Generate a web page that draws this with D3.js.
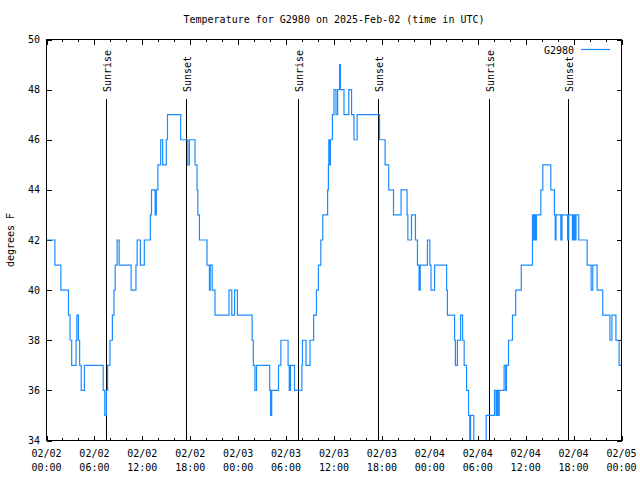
<!DOCTYPE html>
<html><head><meta charset="utf-8">
<script src="https://cdn.jsdelivr.net/npm/d3@7"></script>
<style>
body{margin:0;background:#fff;}
text{font-family:"DejaVu Sans Mono",monospace;font-size:10px;fill:#000;}
</style></head>
<body><svg id="c" width="640" height="480"></svg>
<script>
// Hours since 2025-02-02 00:00 UTC and temperature (deg F)
const hours = [0,1.05,1.8,2.75,2.95,3.15,3.7,3.8,4.0,4.15,4.35,4.75,7.1,7.3,7.5,7.65,7.95,8.25,8.45,8.6,8.85,9.1,10.6,11.2,11.35,11.75,12.25,13.0,13.15,13.6,13.75,13.95,14.3,14.55,15.0,15.15,16.8,17.7,17.9,18.6,18.85,18.95,19.15,20.1,20.4,20.5,20.75,21.1,22.85,23.2,23.55,23.9,25.75,25.9,26.1,26.3,27.95,28.05,28.2,29.05,29.35,30.25,30.4,30.55,31.05,31.98,32.05,32.5,33.0,33.45,33.8,34.05,34.35,34.6,35.2,35.3,35.35,35.45,35.55,35.8,36.0,36.25,36.45,36.7,36.8,37.25,37.85,38.2,38.5,38.9,41.7,42.4,42.85,43.45,44.4,45.15,45.25,45.7,46.2,46.45,46.65,46.8,47.7,48.0,48.15,48.6,50.1,50.2,51.1,51.2,51.45,51.85,52.1,52.3,52.6,52.85,53.0,53.1,53.5,55.05,56.1,56.3,56.45,56.55,56.68,57.3,57.5,57.6,57.85,58.35,58.75,59.45,60.85,60.95,61.05,61.2,61.35,61.9,62.15,63.15,63.6,63.7,63.8,64.4,64.55,65.25,65.4,65.85,66.0,66.15,66.3,66.65,67.7,68.2,68.4,68.95,69.65,70.55,70.8,71.3,71.7,72];
const temps = [42,41,40,39,38,37,38,39,38,37,36,37,36,35,36,37,38,39,40,41,42,41,40,41,42,41,42,43,44,43,44,45,46,45,46,47,46,45,46,45,44,43,42,41,40,41,40,39,40,39,40,39,38,37,36,37,36,35,36,37,38,37,36,37,36,37,38,37,38,39,40,41,42,43,44,45,46,45,46,47,48,47,48,49,48,47,48,47,46,47,46,45,44,43,44,43,42,43,42,41,40,41,42,41,40,41,40,39,38,37,38,39,38,37,36,35,33,35,33,35,36,35,36,35,36,37,36,37,38,39,40,41,43,42,43,42,43,44,45,44,43,42,43,42,43,42,43,42,43,42,43,42,41,40,41,40,39,38,39,38,37,37];
const seriesName = "G2980";
const sunEventHours = [7.45,17.45,31.45,41.45,55.35,65.35];
const sunEventLabels = ["Sunrise","Sunset","Sunrise","Sunset","Sunrise","Sunset"];
const yTicks = [34,36,38,40,42,44,46,48,50];
const xMajorHours = [0,6,12,18,24,30,36,42,48,54,60,66,72];
const xMinorHours = d3.range(0,73,2);
const titleText = "Temperature for G2980 on 2025-Feb-02 (time in UTC)";
const yLabelText = "degrees F";

const t0 = Date.UTC(2025,1,2,0,0,0);
const toDate = h => new Date(t0 + h*3600e3);
const data = hours.map((h,i)=>({t:toDate(h), v:temps[i]}));

const L=46.5, R=621.5, T=39.5, B=440.5;
const svg = d3.select("#c");
const x = d3.scaleUtc().domain([toDate(0),toDate(72)]).range([L,R]);
const y = d3.scaleLinear().domain([34,50]).range([B,T]);

svg.append("text").attr("x",(L+R)/2).attr("y",23).attr("text-anchor","middle").text(titleText);
svg.append("text").attr("transform","translate(13.5,240) rotate(-90)").attr("text-anchor","middle").text(yLabelText);

const fmtD = d3.utcFormat("%m/%d"), fmtT = d3.utcFormat("%H:%M");
// minor ticks
const minorBot = svg.append("g").attr("transform",`translate(0,${B})`)
  .call(d3.axisBottom(x).tickValues(xMinorHours.map(toDate)).tickSize(-2.5).tickFormat(""));
const minorTop = svg.append("g").attr("transform",`translate(0,${T})`)
  .call(d3.axisTop(x).tickValues(xMinorHours.map(toDate)).tickSize(-2.5).tickFormat(""));
const gx = svg.append("g").attr("transform",`translate(0,${B})`)
  .call(d3.axisBottom(x).tickValues(xMajorHours.map(toDate)).tickSize(-5).tickPadding(0).tickFormat(""));
const gxt = svg.append("g").attr("transform",`translate(0,${T})`)
  .call(d3.axisTop(x).tickValues(xMajorHours.map(toDate)).tickSize(-5).tickFormat(""));
const gy = svg.append("g").attr("transform",`translate(${L},0)`)
  .call(d3.axisLeft(y).tickValues(yTicks).tickSize(-5).tickFormat(""));
const gyr = svg.append("g").attr("transform",`translate(${R},0)`)
  .call(d3.axisRight(y).tickValues(yTicks).tickSize(-5).tickFormat(""));
[minorBot,minorTop,gx,gxt,gy,gyr].forEach(g=>{
  g.select(".domain").remove();
  g.selectAll("line").attr("stroke","#000").attr("shape-rendering","crispEdges");
});
// x tick labels (two lines)
const xl = svg.append("g");
xMajorHours.forEach(h=>{
  const d = toDate(h);
  const tx = xl.append("text").attr("x",x(d)).attr("text-anchor","middle");
  tx.append("tspan").attr("x",x(d)).attr("y",457).text(fmtD(d));
  tx.append("tspan").attr("x",x(d)).attr("y",471).text(fmtT(d));
});
// y tick labels
svg.append("g").selectAll("text").data(yTicks).join("text")
  .attr("x",40).attr("y",d=>y(d)+3.5).attr("text-anchor","end").text(d=>d);

// clip
svg.append("clipPath").attr("id","clip").append("rect")
  .attr("x",L).attr("y",T).attr("width",R-L).attr("height",B-T);

// sun events
const se = svg.append("g");
sunEventHours.forEach((h,i)=>{
  const xx = Math.round(x(toDate(h)))+0.5;
  se.append("line").attr("x1",xx).attr("x2",xx).attr("y1",99).attr("y2",B)
    .attr("stroke","#000").attr("shape-rendering","crispEdges");
  se.append("text").attr("transform",`translate(${xx+4.5},92) rotate(-90)`).text(sunEventLabels[i]);
});

// data line
const line = d3.line().x(d=>x(d.t)).y(d=>y(d.v)).curve(d3.curveStepAfter);
svg.append("path").datum(data).attr("clip-path","url(#clip)")
  .attr("fill","none").attr("stroke","#1a8cff").attr("stroke-width",1.2)
  .attr("d",line);

// border
svg.append("rect").attr("x",L).attr("y",T).attr("width",R-L).attr("height",B-T)
  .attr("fill","none").attr("stroke","#000").attr("shape-rendering","crispEdges");

// legend
svg.append("text").attr("x",574).attr("y",53.5).attr("text-anchor","end").text(seriesName);
svg.append("line").attr("x1",581).attr("x2",610).attr("y1",49.5).attr("y2",49.5)
  .attr("stroke","#1a8cff").attr("stroke-width",1.2);
</script></body></html>
